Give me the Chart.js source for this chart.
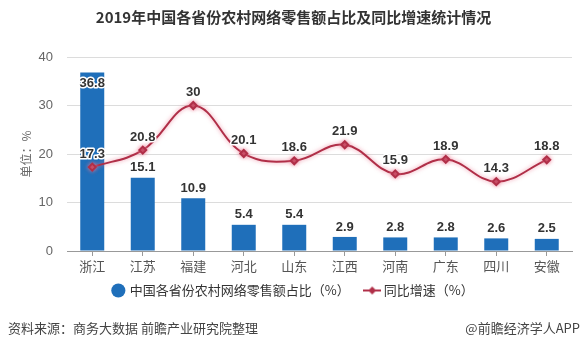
<!DOCTYPE html>
<html>
<head>
<meta charset="utf-8">
<script src="https://cdn.jsdelivr.net/npm/chart.js@4"></script>
<style>
  body { margin: 0; background: #fff; }
  #wrap { position: relative; width: 588px; height: 351px; }
  #chart { position: absolute; left: 0; top: 0; }
  .foot { position: absolute; top: 318px; font: 13px 'Noto Sans CJK SC', sans-serif; color: #444; }
</style>
</head>
<body>
<div id="wrap">
  <canvas id="chart" width="588" height="351"></canvas>
  <div class="foot" style="left:8px">资料来源：商务大数据 前瞻产业研究院整理</div>
  <div class="foot" style="right:8px">@前瞻经济学人APP</div>
</div>
<script>
const provinces = ['浙江', '江苏', '福建', '河北', '山东', '江西', '河南', '广东', '四川', '安徽'];
const shares = [36.8, 15.1, 10.9, 5.4, 5.4, 2.9, 2.8, 2.8, 2.6, 2.5];
const growth = [17.3, 20.8, 30, 20.1, 18.6, 21.9, 15.9, 18.9, 14.3, 18.8];
const yTicks = [0, 10, 20, 30, 40];

const FONT = "'Liberation Sans', 'Noto Sans CJK SC', sans-serif";
const CJK = "'Noto Sans CJK SC', sans-serif";
const blue = '#1f6fba';
const red = '#b02f48';

// little line + diamond for the legend
function lineMark(){
    let c = document.createElement('canvas');
    c.width = 18; c.height = 10;
    let g = c.getContext('2d');
    g.strokeStyle = red; g.lineWidth = 2;
    g.beginPath(); g.moveTo(0, 5); g.lineTo(18, 5); g.stroke();
    g.fillStyle = red;
    g.beginPath(); g.moveTo(9, 1); g.lineTo(13, 5); g.lineTo(9, 9); g.lineTo(5, 5); g.closePath(); g.fill();
    return c;
}

// value labels with white halo
const valueLabels = {
    id: 'valueLabels',
    afterDatasetsDraw(chart){
        const ctx = chart.ctx;
        ctx.save();
        ctx.font = 'bold 13px ' + FONT;
        ctx.textAlign = 'center';
        ctx.textBaseline = 'middle';
        ctx.lineJoin = 'round';
        chart.data.datasets.forEach((ds, i) => {
            const meta = chart.getDatasetMeta(i);
            meta.data.forEach((el, j) => {
                let y;
                if(ds.type === 'bar'){
                    y = el.y - 10;
                    if(y < chart.chartArea.top + 14) y = el.y + 11;
                } else {
                    y = el.y - 13;
                }
                const txt = String(ds.data[j]);
                ctx.strokeStyle = '#fff';
                ctx.lineWidth = 3;
                ctx.strokeText(txt, el.x, y);
                ctx.fillStyle = '#333';
                ctx.fillText(txt, el.x, y);
            });
        });
        ctx.restore();
    }
};

// soft pink glow under the growth line
const lineGlow = {
    id: 'lineGlow',
    beforeDatasetDraw(chart, args){
        if(args.meta.type === 'line'){
            chart.ctx.save();
            chart.ctx.shadowColor = 'rgba(235,120,145,0.8)';
            chart.ctx.shadowBlur = 4;
        }
    },
    afterDatasetDraw(chart, args){
        if(args.meta.type === 'line') chart.ctx.restore();
    }
};

const ctx = document.getElementById('chart');
new Chart(ctx, {
    data: {
        labels: provinces,
        datasets: [
            {
                type: 'bar',
                label: '中国各省份农村网络零售额占比（%）\u3000 ',
                data: shares,
                backgroundColor: blue,
                barPercentage: 0.95,
                categoryPercentage: 0.5,
                order: 2
            },
            {
                type: 'line',
                label: '同比增速（%）',
                data: growth,
                borderColor: red,
                borderWidth: 2,
                tension: 0.4,
                pointStyle: 'rectRot',
                pointRadius: 3.5,
                pointBackgroundColor: red,
                pointBorderColor: red,
                order: 1
            }
        ]
    },
    options: {
        responsive: false,
        animation: false,
        layout: { padding: { left: 15, right: 16, top: 6, bottom: 44 } },
        scales: {
            x: {
                afterFit: s => { s.height = 25; },
                grid: { offset: false, drawOnChartArea: false, color: '#999', tickLength: 5 },
                border: { color: '#999' },
                ticks: { color: '#555', font: { size: 13, family: CJK }, padding: 2 }
            },
            y: {
                min: 0, max: 40,
                afterFit: s => { s.width = 52; },
                afterBuildTicks: s => { s.ticks = yTicks.map(v => ({ value: v })); },
                grid: { color: '#dcdcdc', drawTicks: false },
                border: { display: false },
                ticks: { color: '#666', font: { size: 13, family: FONT }, padding: 14 },
                title: { display: true, text: '单位：%', color: '#666', font: { size: 12, family: CJK }, padding: 4 }
            }
        },
        plugins: {
            title: {
                display: true,
                text: '2019年中国各省份农村网络零售额占比及同比增速统计情况',
                color: '#333',
                font: { size: 15, weight: 'bold', family: CJK },
                padding: { top: 2, bottom: 31 }
            },
            legend: {
                position: 'bottom',
                labels: {
                    usePointStyle: true,
                    boxWidth: 10,
                    boxHeight: 10,
                    color: '#333',
                    font: { size: 13, family: CJK },
                    padding: 8,
                    sort: (a, b) => a.datasetIndex - b.datasetIndex,
                    generateLabels: chart => {
                        const items = Chart.defaults.plugins.legend.labels.generateLabels(chart);
                        items.forEach(it => {
                            if(it.datasetIndex === 0){ it.pointStyle = 'circle'; }
                            else { it.pointStyle = lineMark(); }
                        });
                        return items;
                    }
                }
            },
            tooltip: { enabled: false }
        }
    },
    plugins: [valueLabels, lineGlow]
});
</script>
</body>
</html>
